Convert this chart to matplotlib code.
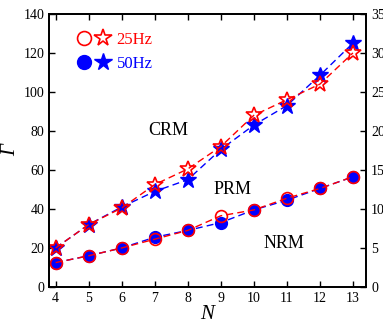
import matplotlib.pyplot as plt
from matplotlib.legend_handler import HandlerTuple

plt.rcParams['font.family'] = ['Liberation Serif', 'DejaVu Serif']

N = [4, 5, 6, 7, 8, 9, 10, 11, 12, 13]
# CRM/PRM boundary (stars)
star_25 = [20, 32, 40.5, 52.5, 60.5, 72, 88, 96, 104, 120]
star_50 = [20, 32, 41, 49, 55, 70.5, 83, 93, 108.5, 125]
# PRM/NRM boundary (circles)
circ_25 = [12.5, 16, 20, 24.5, 29, 36.5, 39.5, 45.5, 50.5, 56.5]
circ_50 = [12.5, 16, 20, 25.5, 29, 33, 39.5, 44.5, 50.5, 56.5]

fig = plt.figure(figsize=(3.83, 3.31), dpi=100)
ax = fig.add_axes([0.128, 0.133, 0.828, 0.825])

dash = (0, (5, 3))
# 50Hz first so that the 25Hz open markers sit on top
ax.plot(N, circ_50, ls=dash, lw=1, color='blue', marker='o', ms=8.5,
        mfc='blue', mec='blue')
ax.plot(N, star_50, ls=dash, lw=1, color='blue', marker='*', ms=12,
        mfc='blue', mec='blue')
ax.plot(N, circ_25, ls=dash, lw=1, color='red', marker='o', ms=8.5,
        mfc='none', mec='red', mew=1.2)
ax.plot(N, star_25, ls=dash, lw=1, color='red', marker='*', ms=12,
        mfc='none', mec='red', mew=1.2)

# legend handles
c25, = ax.plot([], [], 'o', ms=10, mfc='none', mec='red', mew=1.2)
st25, = ax.plot([], [], '*', ms=13, mfc='none', mec='red', mew=1.2)
c50, = ax.plot([], [], 'o', ms=10, mfc='blue', mec='blue')
st50, = ax.plot([], [], '*', ms=13, mfc='blue', mec='blue')
ax.legend([(c25, st25), (c50, st50)], ['25Hz', '50Hz'],
          handler_map={tuple: HandlerTuple(ndivide=None, pad=0.2)},
          loc='upper left', bbox_to_anchor=(0.04, 0.99), frameon=False,
          fontsize=12, labelcolor=['red', 'blue'], handlelength=2.0,
          handletextpad=0.4, labelspacing=0.5)

ax.text(6.8, 80, 'CRM', fontsize=13, va='center')
ax.text(8.77, 50, 'PRM', fontsize=13, va='center')
ax.text(10.3, 22.5, 'NRM', fontsize=13, va='center')

ax.set_xlim(3.8, 13.4)
ax.set_ylim(0, 140)
ax.set_xticks(N)
ax.set_yticks(range(0, 141, 20))
ax.tick_params(direction='in', top=True, labelsize=10, width=1, length=4)
ax.set_xlabel('N', fontsize=15, fontstyle='italic', labelpad=0)
ax.set_ylabel('Γ', fontsize=15, fontstyle='italic', labelpad=2)

ax2 = ax.twinx()
ax2.set_ylim(0, 35)
ax2.set_yticks(range(0, 36, 5))
ax2.tick_params(direction='in', labelsize=10, width=1, length=4)

for a in (ax, ax2):
    for sp in a.spines.values():
        sp.set_linewidth(1.3)

fig.savefig('out.png', dpi=100)
